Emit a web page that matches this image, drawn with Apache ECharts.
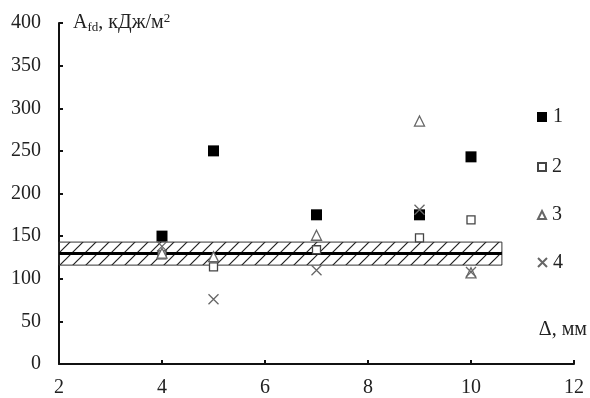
<!DOCTYPE html>
<html>
<head>
<meta charset="utf-8">
<script src="https://cdn.jsdelivr.net/npm/echarts@6/dist/echarts.min.js"></script>
<style>
  html, body { margin: 0; padding: 0; background: #fff; }
  #chart { width: 590px; height: 398px; }
</style>
</head>
<body>
<div id="chart"></div>
<script>
// Gap width Δ, mm
const gapMm = [4, 5, 7, 9, 10];

// Fracture energy A_fd, kJ/m² for the four specimen groups
const series1 = [150, 250, 175, 175, 243];
const series2 = [128, 114, 134, 148, 169];
const series3 = [130, 126, 151, 285, 107];
const series4 = [138, 76, 110, 181, 108];

const seriesNames = ['1', '2', '3', '4'];

// Reference band: mean value with its spread, drawn up to Δ = bandEnd
const bandMid = 130;
const bandLow = 116;
const bandHigh = 143;
const bandStart = 2;
const bandEnd = 10.6;

// Axis ranges
const xMin = 2, xMax = 12, xStep = 2;
const yMin = 0, yMax = 400, yStep = 50;

const serif = '"Liberation Serif", "DejaVu Serif", serif';
const ink = '#222';

// Diagonal hatching for the band
function hatchPattern() {
  const c = document.createElement('canvas');
  const s = 13;
  c.width = s; c.height = s;
  const g = c.getContext('2d');
  g.strokeStyle = '#222';
  g.lineWidth = 1.2;
  g.beginPath();
  g.moveTo(-2, s + 2); g.lineTo(s + 2, -2);
  g.moveTo(-2, 2); g.lineTo(2, -2);
  g.moveTo(s - 2, s + 2); g.lineTo(s + 2, s - 2);
  g.stroke();
  return c;
}

const pts = arr => gapMm.map((x, i) => [x, arr[i]]);
const crossPath = 'path://M0,0L10,10M10,0L0,10';

const chart = echarts.init(document.getElementById('chart'), null, { renderer: 'canvas' });

const legendTops = [107, 156, 204, 252];
const legendIcon = [10, 8, 8, 9];

chart.setOption({
  animation: false,
  backgroundColor: '#fff',
  textStyle: { fontFamily: serif, color: ink },
  grid: { left: 59, right: 15, top: 23, bottom: 34 },
  legend: seriesNames.map((n, i) => ({
    data: [n],
    left: 537,
    top: legendTops[i] + (10 - legendIcon[i]) / 2,
    itemWidth: legendIcon[i],
    itemHeight: legendIcon[i],
    itemGap: 4,
    padding: 0,
    textStyle: { fontFamily: serif, fontSize: 20, color: ink, padding: [4, 0, 0, 1] },
    selectedMode: false
  })),
  xAxis: {
    type: 'value',
    min: xMin, max: xMax, interval: xStep,
    name: 'Δ, мм',
    nameLocation: 'end',
    nameGap: 13,
    nameTextStyle: { fontFamily: serif, fontSize: 20, color: ink, align: 'right', verticalAlign: 'bottom', padding: [0, 0, 24, 0] },
    axisLine: { lineStyle: { color: '#111', width: 2 } },
    axisTick: { inside: true, length: 4, lineStyle: { color: '#111', width: 2 } },
    axisLabel: { fontFamily: serif, fontSize: 20, color: ink, margin: 14 },
    splitLine: { show: false }
  },
  yAxis: {
    type: 'value',
    min: yMin, max: yMax, interval: yStep,
    name: '{a|A}{s|fd}{a|, кДж/м}{p|2}',
    nameLocation: 'end',
    nameGap: 0,
    nameTextStyle: {
      align: 'left', verticalAlign: 'middle', padding: [0, 0, 0, 14],
      rich: {
        a: { fontFamily: serif, fontSize: 20, color: ink },
        s: { fontFamily: serif, fontSize: 13, color: ink, verticalAlign: 'bottom', padding: [8, 0, 0, 0] },
        p: { fontFamily: serif, fontSize: 13, color: ink, verticalAlign: 'top', padding: [0, 0, 9, 0] }
      }
    },
    axisLine: { show: true, lineStyle: { color: '#111', width: 2 } },
    axisTick: { show: true, inside: true, length: 4, lineStyle: { color: '#111', width: 2 } },
    axisLabel: { fontFamily: serif, fontSize: 20, color: ink, margin: 18 },
    splitLine: { show: false }
  },
  series: [
    {
      name: 'band',
      type: 'line',
      data: [],
      silent: true,
      markArea: {
        silent: true,
        itemStyle: {
          color: { image: hatchPattern(), repeat: 'repeat' },
          borderColor: '#333',
          borderWidth: 1,
          opacity: 1
        },
        data: [[{ coord: [bandStart, bandHigh] }, { coord: [bandEnd, bandLow] }]]
      },
      markLine: {
        silent: true,
        symbol: 'none',
        label: { show: false },
        lineStyle: { color: '#000', width: 3, type: 'solid' },
        data: [[{ coord: [bandStart, bandMid] }, { coord: [bandEnd, bandMid] }]]
      }
    },
    {
      name: seriesNames[0], type: 'scatter', data: pts(series1),
      symbol: 'rect', symbolSize: 11, z: 5,
      itemStyle: { color: '#000', borderColor: '#000', borderWidth: 0, opacity: 1 }
    },
    {
      name: seriesNames[1], type: 'scatter', data: pts(series2),
      symbol: 'rect', symbolSize: 8, z: 6,
      itemStyle: { color: '#fff', borderColor: '#444', borderWidth: 1.3, opacity: 1 }
    },
    {
      name: seriesNames[2], type: 'scatter', data: pts(series3),
      symbol: 'triangle', symbolSize: 10, z: 6,
      itemStyle: { color: '#fff', borderColor: '#666', borderWidth: 1.3, opacity: 1 }
    },
    {
      name: seriesNames[3], type: 'scatter', data: pts(series4),
      symbol: crossPath, symbolSize: 10, z: 6,
      itemStyle: { color: 'rgba(0,0,0,0)', borderColor: '#666', borderWidth: 1.3, opacity: 1 }
    }
  ]
});
</script>
</body>
</html>
